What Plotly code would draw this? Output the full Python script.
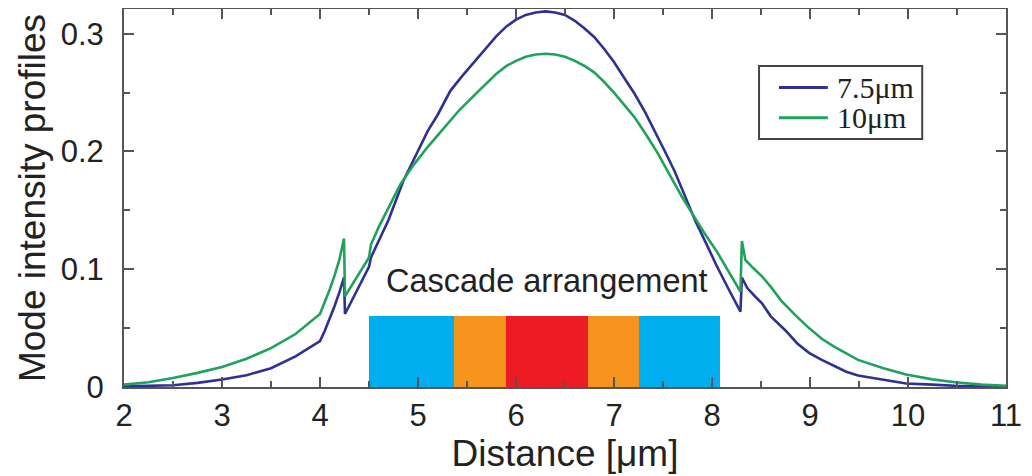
import plotly.graph_objects as go

# ---- data ----
x_blue = [2.0, 2.25, 2.5, 2.75, 3.0, 3.25, 3.5, 3.75, 4.0, 4.05, 4.1, 4.15, 4.2, 4.245,
          4.255, 4.5, 4.52, 4.7, 4.85, 5.0, 5.1, 5.2, 5.33, 5.45, 5.55, 5.7, 5.8, 5.9,
          6.0, 6.1, 6.2, 6.3, 6.4, 6.5, 6.6, 6.7, 6.8, 6.9, 7.0, 7.1, 7.21, 7.32, 7.42,
          7.52, 7.62, 7.72, 7.83, 7.94, 8.05, 8.17, 8.29, 8.305, 8.36, 8.45, 8.51, 8.6,
          8.75, 8.87, 8.99, 9.12, 9.25, 9.37, 9.49, 9.75, 9.98, 10.25, 10.48, 10.75, 11.0]
y_blue = [0.0005, 0.001, 0.0015, 0.0035, 0.0064, 0.010, 0.016, 0.026, 0.039, 0.048, 0.058, 0.069, 0.081, 0.093,
          0.062, 0.102, 0.110, 0.142, 0.175, 0.200, 0.2175, 0.231, 0.2515, 0.264, 0.274, 0.288, 0.298, 0.306,
          0.312, 0.316, 0.318, 0.319, 0.318, 0.316, 0.311, 0.3045, 0.297, 0.287, 0.276, 0.263, 0.249, 0.233, 0.217,
          0.200, 0.183, 0.163, 0.141, 0.122, 0.1025, 0.083, 0.064, 0.093, 0.084, 0.076, 0.071, 0.060,
          0.048, 0.037, 0.029, 0.023, 0.018, 0.013, 0.0098, 0.006, 0.003, 0.002, 0.001, 0.0005, 0.0]

x_green = [2.0, 2.25, 2.5, 2.75, 3.0, 3.25, 3.5, 3.75, 4.0, 4.05, 4.1, 4.15, 4.2, 4.245,
           4.255, 4.5, 4.52, 4.6, 4.7, 4.82, 4.95, 5.1, 5.24, 5.42, 5.62, 5.7, 5.8, 5.9,
           6.0, 6.1, 6.2, 6.3, 6.4, 6.5, 6.6, 6.7, 6.8, 6.9, 7.0, 7.1, 7.21, 7.33, 7.45,
           7.57, 7.69, 7.8, 7.92, 8.05, 8.17, 8.29, 8.305, 8.34, 8.42, 8.51, 8.6, 8.71,
           8.85, 8.99, 9.12, 9.25, 9.49, 9.75, 9.98, 10.25, 10.48, 10.75, 11.0]
y_green = [0.002, 0.004, 0.0077, 0.012, 0.017, 0.024, 0.033, 0.045, 0.062, 0.072, 0.083, 0.095, 0.109, 0.126,
           0.077, 0.110, 0.121, 0.136, 0.152, 0.172, 0.188, 0.204, 0.2175, 0.235, 0.2515, 0.258, 0.266, 0.2725,
           0.277, 0.2804, 0.2824, 0.283, 0.2824, 0.2804, 0.277, 0.2726, 0.267, 0.259, 0.250, 0.240, 0.229, 0.214, 0.198,
           0.180, 0.162, 0.147, 0.131, 0.115, 0.098, 0.081, 0.124, 0.108, 0.101, 0.094, 0.085, 0.073,
           0.061, 0.050, 0.041, 0.034, 0.023, 0.016, 0.0106, 0.0065, 0.004, 0.002, 0.001]

series_names = ["7.5\u03bcm", "10\u03bcm"]
series_colors = ["#2E3192", "#1FA25C"]

# cascade arrangement blocks
block_edges = [4.5, 5.37, 5.9, 6.73, 7.25, 8.08]
block_height = 0.06
block_colors = ["#00AEEF", "#F7941D", "#ED1C24", "#F7941D", "#00AEEF"]

x_ticks = [2, 3, 4, 5, 6, 7, 8, 9, 10, 11]
y_ticks = [0, 0.1, 0.2, 0.3]
y_tick_text = ["0", "0.1", "0.2", "0.3"]

fig = go.Figure()

mids = [(a + b) / 2 for a, b in zip(block_edges[:-1], block_edges[1:])]
widths = [b - a for a, b in zip(block_edges[:-1], block_edges[1:])]
fig.add_trace(go.Bar(x=mids, y=[block_height] * len(mids), width=widths,
                     marker=dict(color=block_colors, line=dict(width=0)),
                     showlegend=False, hoverinfo="skip"))

for xs, ys, name, col in [(x_blue, y_blue, series_names[0], series_colors[0]),
                          (x_green, y_green, series_names[1], series_colors[1])]:
    fig.add_trace(go.Scatter(x=xs, y=ys, mode="lines", name=name,
                             line=dict(color=col, width=2.6), showlegend=False))

fig.add_annotation(x=6.32, y=0.09, text="Cascade arrangement", showarrow=False,
                   font=dict(family="Liberation Sans, Arial", size=32.5, color="#222"),
                   xref="x", yref="y")

# legend box (drawn in paper coordinates)
fig.add_shape(type="rect", xref="paper", yref="paper", x0=0.720, x1=0.905, y0=0.656, y1=0.849,
              line=dict(color="#444", width=2), fillcolor="white", layer="above")
legend_rows = [0.792, 0.712]
for name, col, yy in zip(series_names, series_colors, legend_rows):
    fig.add_shape(type="line", xref="paper", yref="paper", x0=0.7426, x1=0.798, y0=yy, y1=yy,
                  line=dict(color=col, width=3), layer="above")
    fig.add_annotation(x=0.806, y=yy, xref="paper", yref="paper", text=name, showarrow=False,
                       xanchor="left", yanchor="middle",
                       font=dict(family="Liberation Serif, Times New Roman", size=30, color="#222"))

axis_common = dict(showline=True, linecolor="#555", linewidth=2, mirror="ticks",
                   ticks="inside", tickcolor="#555", tickwidth=1.5, ticklen=10,
                   showgrid=False, zeroline=False, automargin=False,
                   tickfont=dict(family="Liberation Sans, Arial", size=31, color="#222"))

fig.update_xaxes(range=[2, 11], tickvals=x_ticks,
                 minor=dict(ticks="inside", dtick=0.5, ticklen=6, tickcolor="#555", tickwidth=1.5),
                 title=dict(text="Distance [\u03bcm]", standoff=6,
                            font=dict(family="Liberation Sans, Arial", size=37, color="#222")),
                 **axis_common)
fig.update_yaxes(range=[0, 0.321], tickvals=y_ticks, ticktext=y_tick_text,
                 ticklabelstandoff=12,
                 minor=dict(ticks="inside", dtick=0.05, ticklen=6, tickcolor="#555", tickwidth=1.5),
                 title=dict(text="Mode intensity profiles", standoff=4,
                            font=dict(family="Liberation Sans, Arial", size=37, color="#222")),
                 **axis_common)

fig.update_layout(
    width=1032, height=476,
    margin=dict(l=116, r=34, t=1, b=97),
    plot_bgcolor="white", paper_bgcolor="white",
    bargap=0,
    showlegend=False,
)

fig.write_html("out.html")
